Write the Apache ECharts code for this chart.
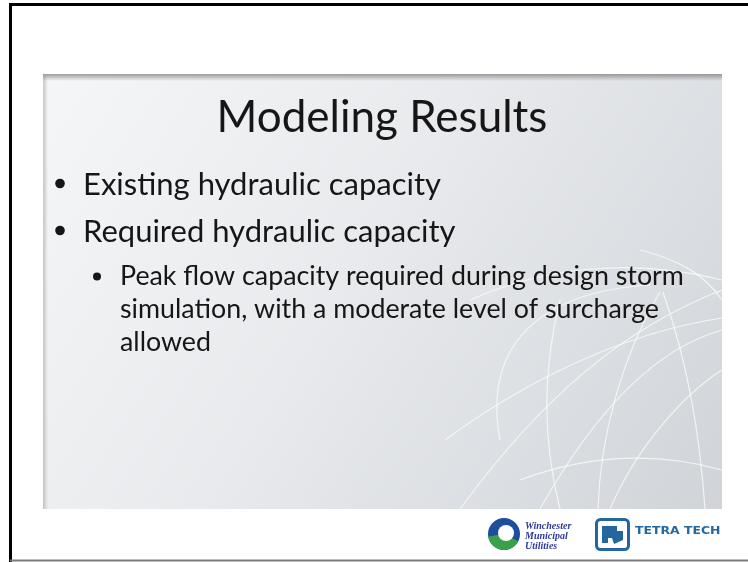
<!DOCTYPE html>
<html>
<head>
<meta charset="utf-8">
<script src="https://cdn.jsdelivr.net/npm/echarts@6/dist/echarts.min.js"></script>
<style>
  html, body { margin: 0; padding: 0; background: #fff; }
  #main { width: 748px; height: 562px; }
</style>
</head>
<body>
<div id="main"></div>
<script>
// slide text
var slideTitle = 'Modeling Results';
var topBullets = ['Existing hydraulic capacity', 'Required hydraulic capacity'];
var subBulletLines = [
    'Peak flow capacity required during design storm',
    'simulation, with a moderate level of surcharge',
    'allowed'
];
var logoLines = ['Winchester', 'Municipal', 'Utilities'];
var logoBrand = 'TETRA TECH';

var myChart = echarts.init(document.getElementById('main'), null, {renderer: 'canvas'});

var font = 'Lato, "Open Sans", sans-serif';
var ink = '#161616';
var elements = [];

// slide panel
elements.push({
    type: 'rect', shape: {x: 43, y: 74, width: 679, height: 435},
    style: {fill: new echarts.graphic.LinearGradient(0, 0, 1, 1, [
        {offset: 0, color: '#f5f6f7'},
        {offset: 0.45, color: '#e8eaed'},
        {offset: 1, color: '#d0d4d9'}
    ])}
});
// top shadow of the panel
elements.push({
    type: 'rect', shape: {x: 43, y: 74, width: 679, height: 7},
    style: {fill: new echarts.graphic.LinearGradient(0, 0, 0, 1, [
        {offset: 0, color: 'rgba(120,120,120,0.7)'},
        {offset: 1, color: 'rgba(120,120,120,0)'}
    ])}
});
// left shadow
elements.push({
    type: 'rect', shape: {x: 43, y: 74, width: 5, height: 435},
    style: {fill: new echarts.graphic.LinearGradient(0, 0, 1, 0, [
        {offset: 0, color: 'rgba(150,150,150,0.5)'},
        {offset: 1, color: 'rgba(150,150,150,0)'}
    ])}
});

// globe lines, bottom right
var curves = [
    [[445, 440], [540, 370], [640, 330], [722, 318]],
    [[470, 300], [560, 260], [650, 262], [722, 280]],
    [[500, 440], [480, 330], [560, 290], [650, 285]],
    [[460, 509], [540, 400], [620, 330], [722, 290]],
    [[540, 509], [590, 420], [650, 350], [722, 330]],
    [[610, 509], [640, 440], [690, 390], [722, 370]],
    [[660, 292], [620, 360], [600, 440], [598, 509]],
    [[663, 292], [690, 370], [700, 440], [705, 509]],
    [[560, 300], [540, 380], [545, 450], [560, 509]],
    [[520, 480], [600, 450], [670, 455], [722, 470]],
    [[640, 250], [680, 260], [705, 275], [722, 300]]
];
curves.forEach(function (c) {
    elements.push({
        type: 'bezierCurve',
        shape: {x1: c[0][0], y1: c[0][1], cpx1: c[1][0], cpy1: c[1][1],
                cpx2: c[2][0], cpy2: c[2][1], x2: c[3][0], y2: c[3][1]},
        style: {stroke: 'rgba(255,255,255,0.7)', lineWidth: 1.2, fill: null}
    });
});

// title
elements.push({
    type: 'text', x: 382, y: 118,
    style: {text: slideTitle, font: '44px ' + font, fill: ink,
            textAlign: 'center', textVerticalAlign: 'middle'}
});

// first level bullets
var topY = [184.5, 231.5];
topBullets.forEach(function (t, i) {
    elements.push({type: 'circle', shape: {cx: 60, cy: topY[i] - 1, r: 4.8}, style: {fill: ink}});
    elements.push({
        type: 'text', x: 83, y: topY[i],
        style: {text: t, font: '31px ' + font, fill: ink, textVerticalAlign: 'middle'}
    });
});

// second level bullet
elements.push({type: 'circle', shape: {cx: 97, cy: 276.5, r: 4}, style: {fill: ink}});
subBulletLines.forEach(function (t, i) {
    elements.push({
        type: 'text', x: 120, y: 276.5 + i * 33,
        style: {text: t, font: '26.8px ' + font, fill: ink, textVerticalAlign: 'middle'}
    });
});

// Winchester logo
elements.push({type: 'circle', shape: {cx: 504, cy: 534, r: 16}, style: {fill: '#1f4e9c'}});
elements.push({type: 'sector', shape: {cx: 504, cy: 534, r: 16, r0: 0, startAngle: Math.PI * 0.15, endAngle: Math.PI * 0.95},
    style: {fill: '#3aa04a'}});
elements.push({type: 'circle', shape: {cx: 506, cy: 533, r: 8}, style: {fill: '#ffffff'}});
logoLines.forEach(function (t, i) {
    elements.push({
        type: 'text', x: 525, y: 526.5 + i * 10,
        style: {text: t, font: 'italic bold 10px "Liberation Serif", serif', fill: '#2f3a9c',
                textVerticalAlign: 'middle'}
    });
});

// Tetra Tech logo
elements.push({type: 'rect', shape: {x: 596.5, y: 519.5, width: 32, height: 30, r: 4},
    style: {fill: '#ffffff', stroke: '#23679e', lineWidth: 3}});
elements.push({type: 'polygon', shape: {points: [[602, 526], [617, 526], [617, 531], [623, 531], [623, 540], [614, 544], [612, 538], [608, 538], [608, 543], [602, 543]]},
    style: {fill: '#23679e'}});
elements.push({
    type: 'text', x: 635, y: 531, scaleX: 1.13,
    style: {text: logoBrand, font: 'bold 11px "DejaVu Sans", sans-serif', fill: '#23679e',
            textVerticalAlign: 'middle'}
});

// outer frame
elements.push({type: 'line', shape: {x1: 9, y1: 4.5, x2: 748, y2: 4.5}, style: {stroke: '#000', lineWidth: 3}});
elements.push({type: 'line', shape: {x1: 10.5, y1: 3, x2: 10.5, y2: 562}, style: {stroke: '#000', lineWidth: 3}});
elements.push({type: 'line', shape: {x1: 10, y1: 560.5, x2: 748, y2: 560.5}, style: {stroke: '#7a7a7a', lineWidth: 2}});

myChart.setOption({
    backgroundColor: '#ffffff',
    animation: false,
    graphic: {elements: elements}
});
</script>
</body>
</html>
